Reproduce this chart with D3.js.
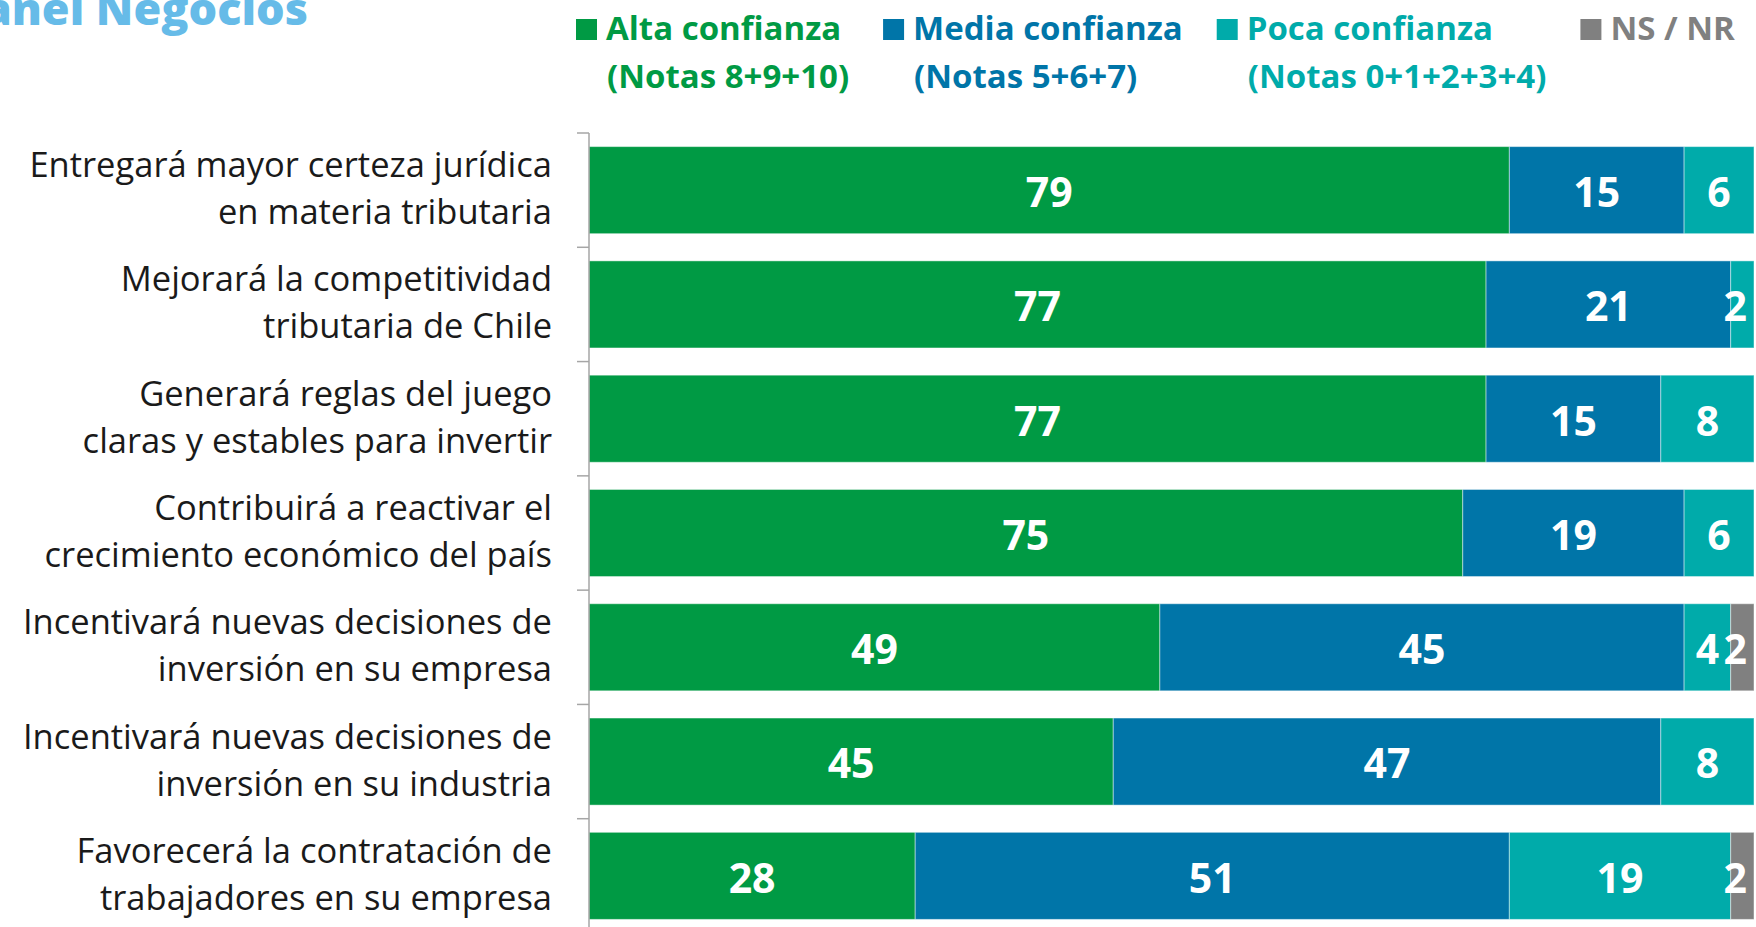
<!DOCTYPE html>
<html>
<head>
<meta charset="utf-8">
<script src="https://cdn.jsdelivr.net/npm/d3@7"></script>
<style>
  html, body { margin: 0; padding: 0; background: #ffffff; }
  svg { display: block; }
</style>
</head>
<body>
<svg id="chart" width="1756" height="927"></svg>
<script>
// Categories (two-line labels)
const categories = [
  ["Entregará mayor certeza jurídica", "en materia tributaria"],
  ["Mejorará la competitividad", "tributaria de Chile"],
  ["Generará reglas del juego", "claras y estables para invertir"],
  ["Contribuirá a reactivar el", "crecimiento económico del país"],
  ["Incentivará nuevas decisiones de", "inversión en su empresa"],
  ["Incentivará nuevas decisiones de", "inversión en su industria"],
  ["Favorecerá la contratación de", "trabajadores en su empresa"]
];

// Series values (%)
const alta  = [79, 77, 77, 75, 49, 45, 28];
const media = [15, 21, 15, 19, 45, 47, 51];
const poca  = [ 6,  2,  8,  6,  4,  8, 19];
const nsnr  = [ 0,  0,  0,  0,  2,  0,  2];

const seriesKeys   = ["alta", "media", "poca", "nsnr"];
const seriesNames  = ["Alta confianza", "Media confianza", "Poca confianza", "NS / NR"];
const seriesNotes  = ["(Notas 8+9+10)", "(Notas 5+6+7)", "(Notas 0+1+2+3+4)", ""];
const seriesColors = ["#009a44", "#0075a8", "#00abaa", "#808080"];

const titleText = "Panel Negocios";

const rows = categories.map((c, i) => ({
  id: i, label: c, alta: alta[i], media: media[i], poca: poca[i], nsnr: nsnr[i]
}));

const svg = d3.select("#chart");
const W = 1756, H = 927;
const FONT = "'Open Sans', 'Noto Sans', sans-serif";

const x = d3.scaleLinear().domain([0, 100]).range([589, 1754]);
const y = d3.scaleBand().domain(rows.map(d => d.id)).range([133, 933])
  .paddingInner(0.238).paddingOuter(0.119);
const color = d3.scaleOrdinal().domain(seriesKeys).range(seriesColors);

// Title (partly cropped at the top-left corner)
svg.append("text")
  .attr("x", 308).attr("y", 25)
  .attr("text-anchor", "end")
  .attr("font-family", FONT)
  .attr("font-weight", 800)
  .attr("font-size", 45)
  .attr("fill", "#66bbe8")
  .text(titleText);

// Stacked bars
const stack = d3.stack().keys(seriesKeys);
const stacked = stack(rows);

const layers = svg.append("g").selectAll("g")
  .data(stacked).join("g")
  .attr("fill", d => color(d.key));

layers.selectAll("rect")
  .data(d => d.filter(s => s[1] - s[0] > 0))
  .join("rect")
  .attr("x", s => x(s[0]))
  .attr("y", s => y(s.data.id))
  .attr("width", s => x(s[1]) - x(s[0]))
  .attr("height", y.bandwidth())
  .attr("stroke", "rgba(255,255,255,0.45)")
  .attr("stroke-width", 1);

// Value labels
const labelG = svg.append("g");
stacked.forEach(layer => {
  layer.forEach(s => {
    const v = s[1] - s[0];
    if (v <= 0) return;
    const t = labelG.append("text")
      .attr("x", x((s[0] + s[1]) / 2))
      .attr("y", y(s.data.id) + y.bandwidth() / 2)
      .attr("dy", "0.41em")
      .attr("text-anchor", "middle")
      .attr("font-family", FONT)
      .attr("font-weight", 700)
      .attr("font-size", 41)
      .attr("fill", "#ffffff")
      .text(v);
    // keep labels of thin end segments inside the plot
    const bb = t.node().getBBox();
    const maxRight = x(100) - 7;
    if (bb.x + bb.width > maxRight) {
      t.attr("x", maxRight - bb.width / 2);
    }
  });
});

// Category axis
const axis = d3.axisLeft(y).tickSize(0).tickFormat("");
const axG = svg.append("g").attr("transform", `translate(${x(0)},0)`).call(axis);
axG.select(".domain").remove();
axG.append("line")
  .attr("x1", 0).attr("x2", 0)
  .attr("y1", 133).attr("y2", H)
  .attr("stroke", "#a6a6a6").attr("stroke-width", 1.5);
// tick marks at band boundaries
const step = y.step();
d3.range(rows.length).forEach(i => {
  const yy = y(rows[i].id) - y.paddingInner() * step / 2;
  axG.append("line")
    .attr("x1", -12).attr("x2", 0)
    .attr("y1", yy).attr("y2", yy)
    .attr("stroke", "#a6a6a6").attr("stroke-width", 1.5);
});

// Category labels
const catG = svg.append("g");
rows.forEach(d => {
  const cy = y(d.id) + y.bandwidth() / 2;
  const t = catG.append("text")
    .attr("text-anchor", "end")
    .attr("font-family", FONT)
    .attr("font-size", 34.5)
    .attr("fill", "#1a1a1a");
  t.append("tspan").attr("x", 552).attr("y", cy - 13).text(d.label[0]);
  t.append("tspan").attr("x", 552).attr("y", cy + 34).text(d.label[1]);
});

// Legend
const legend = svg.append("g");
let lx = 576;
seriesKeys.forEach((k, i) => {
  const g = legend.append("g").attr("transform", `translate(${lx},0)`);
  g.append("rect").attr("x", 0).attr("y", 19).attr("width", 21).attr("height", 21)
    .attr("fill", color(k));
  const t1 = g.append("text").attr("x", 30).attr("y", 40)
    .attr("font-family", FONT).attr("font-weight", 700).attr("font-size", 33)
    .attr("fill", color(k)).text(seriesNames[i]);
  let w = t1.node().getComputedTextLength();
  if (seriesNotes[i]) {
    const t2 = g.append("text").attr("x", 31).attr("y", 88)
      .attr("font-family", FONT).attr("font-weight", 700).attr("font-size", 33)
      .attr("fill", color(k)).text(seriesNotes[i]);
    w = Math.max(w, t2.node().getComputedTextLength() + 1);
  }
  lx += 30 + w + 34;
});
</script>
</body>
</html>
